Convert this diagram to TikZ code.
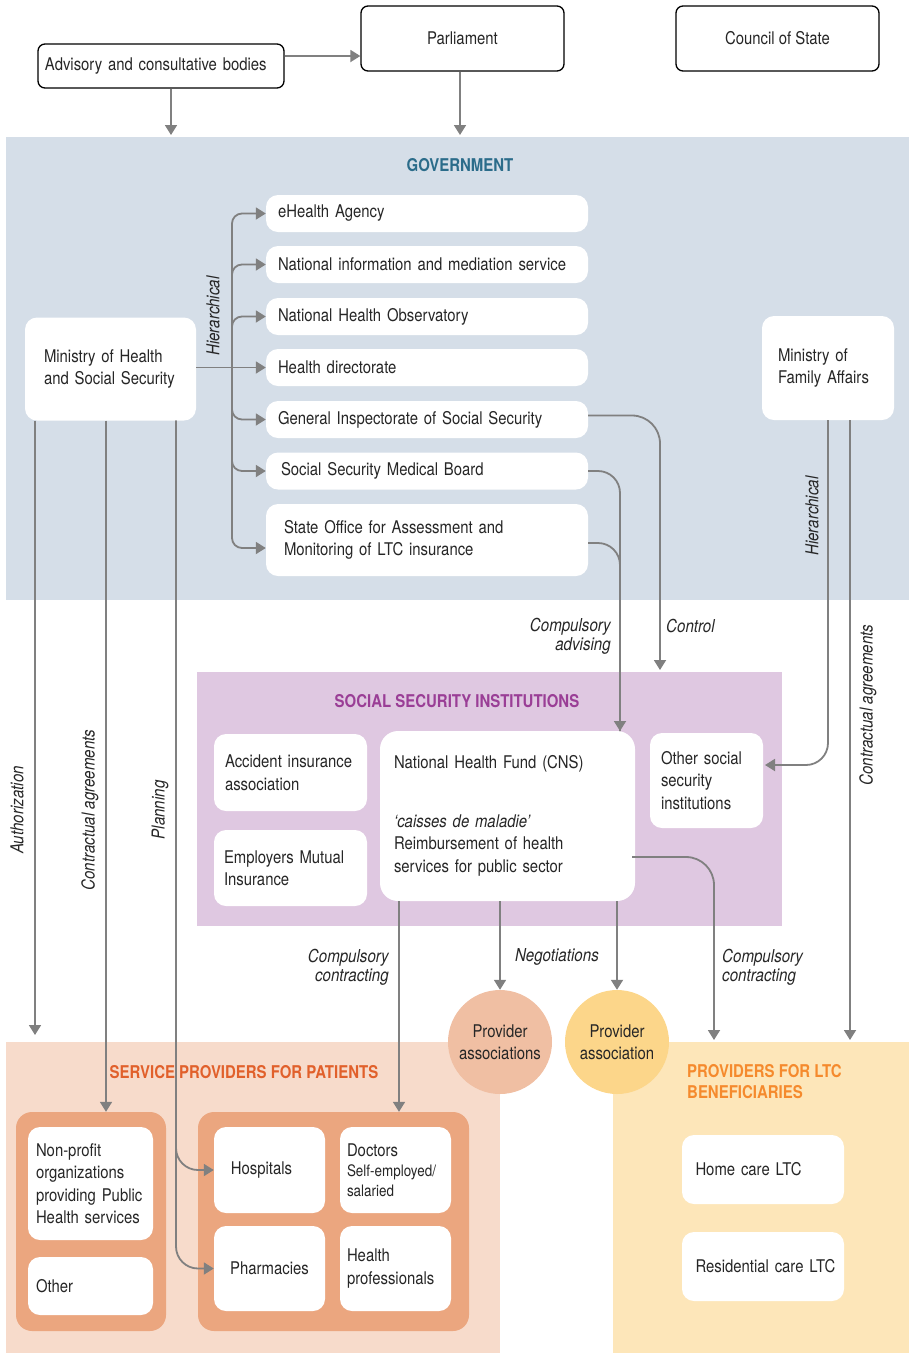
\documentclass[tikz,border=0pt]{standalone}
\usepackage{fontspec}
\setmainfont{TeX Gyre Heros}[FakeStretch=0.85]
\usepackage{xcolor}
\usetikzlibrary{arrows.meta}
\definecolor{govbg}{HTML}{D5DEE8}
\definecolor{ssibg}{HTML}{DFC8E1}
\definecolor{spbg}{HTML}{F7DBCB}
\definecolor{ltcbg}{HTML}{FDE6B9}
\definecolor{grp}{HTML}{EBA67F}
\definecolor{circA}{HTML}{F0BFA3}
\definecolor{circB}{HTML}{FCD68A}
\definecolor{govtxt}{HTML}{2B6C8A}
\definecolor{ssitxt}{HTML}{9A3E96}
\definecolor{sptxt}{HTML}{E1602B}
\definecolor{ltctxt}{HTML}{F58A2D}
\definecolor{linegray}{HTML}{808080}

\begin{document}
\begin{tikzpicture}[x=1pt, y=-1pt,
		every node/.style={font=\fontsize{17.5}{22.5}\selectfont, inner sep=0pt, text=black!85},
		topbox/.style={draw=black, line width=1.3pt, rounded corners=7pt, fill=white},
		wbox/.style={fill=white, rounded corners=12pt, align=left, inner xsep=12pt},
		gbox/.style={wbox, text width=298pt, minimum height=37pt},
		title/.style={font=\fontsize{17.6}{21}\selectfont\bfseries},
		lbl/.style={font=\fontsize{17.8}{19}\selectfont\itshape},
		line/.style={draw=linegray, line width=1.8pt},
		conn/.style={line, -{Triangle[width=12pt,length=10pt]}}
	]
	\useasboundingbox (0,0) rectangle (909,1353);

	% backgrounds
	\fill[govbg] (6,137) rectangle (909,600);
	\fill[ssibg] (197,672) rectangle (782,926);
	\fill[spbg] (6,1042) rectangle (500,1353);
	\fill[ltcbg] (613,1042) rectangle (909,1353);

	\node[title, text=govtxt] (govt) at (460,165) {GOVERNMENT};
	\node[title, text=ssitxt] (ssit) at (457,701) {SOCIAL SECURITY INSTITUTIONS};
	\node[title, text=sptxt] (spt) at (244,1072) {SERVICE PROVIDERS FOR PATIENTS};
	\node[title, text=ltctxt, anchor=west, align=left] (ltct) at (687,1082) {PROVIDERS FOR LTC\\BENEFICIARIES};

	% top level
	\node[topbox, minimum width=246pt, minimum height=44pt, text width=232pt, inner xsep=7pt, align=left] (adv) at (161,66) {Advisory and consultative bodies};
	\node[topbox, minimum width=203pt, minimum height=65pt] (parl) at (462.5,38.5) {Parliament};
	\node[topbox, minimum width=203pt, minimum height=65pt] (cos) at (777.5,38.5) {Council of State};

	% government
	\node[wbox, text width=133pt, inner xsep=19pt, minimum height=103pt] (mh) at (110.5,369) {Ministry of Health\\and Social Security};
	\node[wbox, text width=100pt, inner xsep=16pt, minimum height=104pt] (mf) at (828,368) {Ministry of\\Family Affairs};
	\node[gbox] (eh) at (427,213.5) {eHealth Agency};
	\node[gbox] (nim) at (427,264.5) {National information and mediation service};
	\node[gbox] (nho) at (427,316.5) {National Health Observatory};
	\node[gbox] (hd) at (427,367.5) {Health directorate};
	\node[gbox] (gi) at (427,419.5) {General Inspectorate of Social Security};
	\node[gbox] (mb) at (427,471) {\hspace{3pt}Social Security Medical Board};
	\node[gbox, minimum height=72pt, text width=286pt, inner xsep=18pt] (so) at (427,540) {State Office for Assessment and\\Monitoring of LTC insurance};

	% social security institutions
	\node[wbox, text width=131pt, minimum height=77pt, inner xsep=11pt] (aia) at (290.5,772.5) {Accident insurance\\association};
	\node[wbox, text width=133pt, minimum height=76pt, inner xsep=10pt] (emi) at (290.5,868) {Employers Mutual\\Insurance};
	\node[wbox, text width=227pt, minimum height=170pt, inner xsep=14pt, rounded corners=18pt] (cns) at (507.5,816) {National Health Fund (CNS)\\[36pt]\textit{`caisses de maladie'}\\Reimbursement of health\\services for public sector};
	\node[wbox, text width=91pt, minimum height=95pt, inner xsep=11pt] (oth) at (706.5,780.5) {Other social\\security\\institutions};

	% provider associations
	\node[circle, fill=circA, minimum size=104pt, align=center] (pa1) at (500,1042) {Provider\\associations};
	\node[circle, fill=circB, minimum size=104pt, align=center] (pa2) at (617,1042) {Provider\\association};

	% service providers for patients
	\node[fill=grp, rounded corners=16pt, minimum width=150pt, minimum height=219pt] (lg) at (91,1221.5) {};
	\node[fill=grp, rounded corners=16pt, minimum width=271pt, minimum height=219pt] (rg) at (333.5,1221.5) {};
	\node[wbox, text width=109pt, inner xsep=8pt, minimum height=113pt] (np) at (90.5,1183.5) {Non-profit\\organizations\\providing Public\\Health services};
	\node[wbox, text width=109pt, inner xsep=8pt, minimum height=58pt] (oth2) at (90.5,1286) {Other};
	\node[wbox, align=center, minimum width=111pt, minimum height=86pt] (hosp) at (269.5,1170) {\hspace{-16pt}Hospitals};
	\node[wbox, text width=97pt, inner xsep=7pt, minimum height=86pt] (doc) at (395.5,1170) {Doctors\\[-2pt]{\fontsize{15.8}{19}\selectfont Self-employed/}\\[-3pt]{\fontsize{15.8}{19}\selectfont salaried}};
	\node[wbox, align=center, minimum width=111pt, minimum height=85pt] (phar) at (269.5,1268.5) {Pharmacies};
	\node[wbox, text width=97pt, inner xsep=7pt, minimum height=85pt] (hp) at (395.5,1268.5) {Health\\professionals};

	% LTC providers
	\node[wbox, text width=147pt, inner xsep=7.5pt, minimum height=69pt] (home) at (763,1169.5) {\hspace*{6pt}Home care LTC};
	\node[wbox, text width=147pt, inner xsep=7.5pt, minimum height=69pt] (res) at (763,1266.5) {\hspace*{6pt}Residential care LTC};

	% free ends
	\coordinate (hub) at (232,367.5);
	\coordinate (govA) at (171,135);
	\coordinate (govB) at (460,135);
	\coordinate (ssiC) at (660,670);
	\coordinate (cnsin) at (620,731);
	\coordinate (othin) at (765,765);
	\coordinate (spA) at (35,1035);
	\coordinate (ltcA) at (714,1040);
	\coordinate (ltcB) at (850,1040);

	% connectors
	\draw[conn] ([yshift=10pt]adv.east) -- ([yshift=10pt]adv.east -| parl.west);
	\draw[conn] (adv.south -| govA) -- (govA);
	\draw[conn] (parl.south -| govB) -- (govB);
	\draw[conn] (mh.east |- hd.west) -- (hd.west);
	\foreach \b in {eh,nim,nho,gi,mb}
		\draw[conn, rounded corners=10pt] (hub) |- (\b.west);
	\draw[conn, rounded corners=10pt] (hub) |- ([yshift=-8pt]so.west);
	\draw[conn, rounded corners=28pt] ([yshift=4pt]gi.east) -| (ssiC);
	\draw[line, rounded corners=22pt] (so.east) ++(0,3) -| (cnsin);
	\draw[conn, rounded corners=22pt] (mb.east) -| (cnsin);
	\draw[conn, rounded corners=22pt] (mf.south) |- (othin);
	\draw[conn] ([xshift=22pt]mf.south) -- (ltcB);
	\draw[conn] (mh.south -| spA) -- (spA);
	\draw[conn] ([xshift=-4.5pt]mh.south) -- ([xshift=15pt]lg.north);
	\draw[conn, rounded corners=22pt] ([xshift=65.5pt]mh.south) |- (hosp.west);
	\draw[conn, rounded corners=22pt] ([xshift=65.5pt]mh.south) |- (phar.west);
	\draw[conn] ([xshift=-108.5pt]cns.south) -- ([xshift=65.5pt]rg.north);
	\draw[conn] (pa1.north |- cns.south) -- (pa1.north);
	\draw[conn] (pa2.north |- cns.south) -- (pa2.north);
	\draw[conn, rounded corners=28pt] ([yshift=-41pt,xshift=-3pt]cns.east) -| (ltcA);

	% connector labels
	\node[lbl, rotate=90] (l1) at (17,810) {Authorization};
	\node[lbl, rotate=90] (l2) at (90,810) {Contractual agreements};
	\node[lbl, rotate=90] (l3) at (160,810) {Planning};
	\node[lbl, rotate=90] (l4) at (213,316) {Hierarchical};
	\node[lbl, rotate=90] (l5) at (812,516) {Hierarchical};
	\node[lbl, rotate=90] (l6) at (868,705) {Contractual agreements};
	\node[lbl, anchor=east, align=right] (l7) at (611,636) {Compulsory\\advising};
	\node[lbl, anchor=west] (l8) at (666,626) {Control};
	\node[lbl, anchor=east, align=right] (l9) at (389,967) {Compulsory\\contracting};
	\node[lbl] (l10) at (557,957) {Negotiations};
	\node[lbl, anchor=west, align=left] (l11) at (722,967) {Compulsory\\contracting};
\end{tikzpicture}
\end{document}
